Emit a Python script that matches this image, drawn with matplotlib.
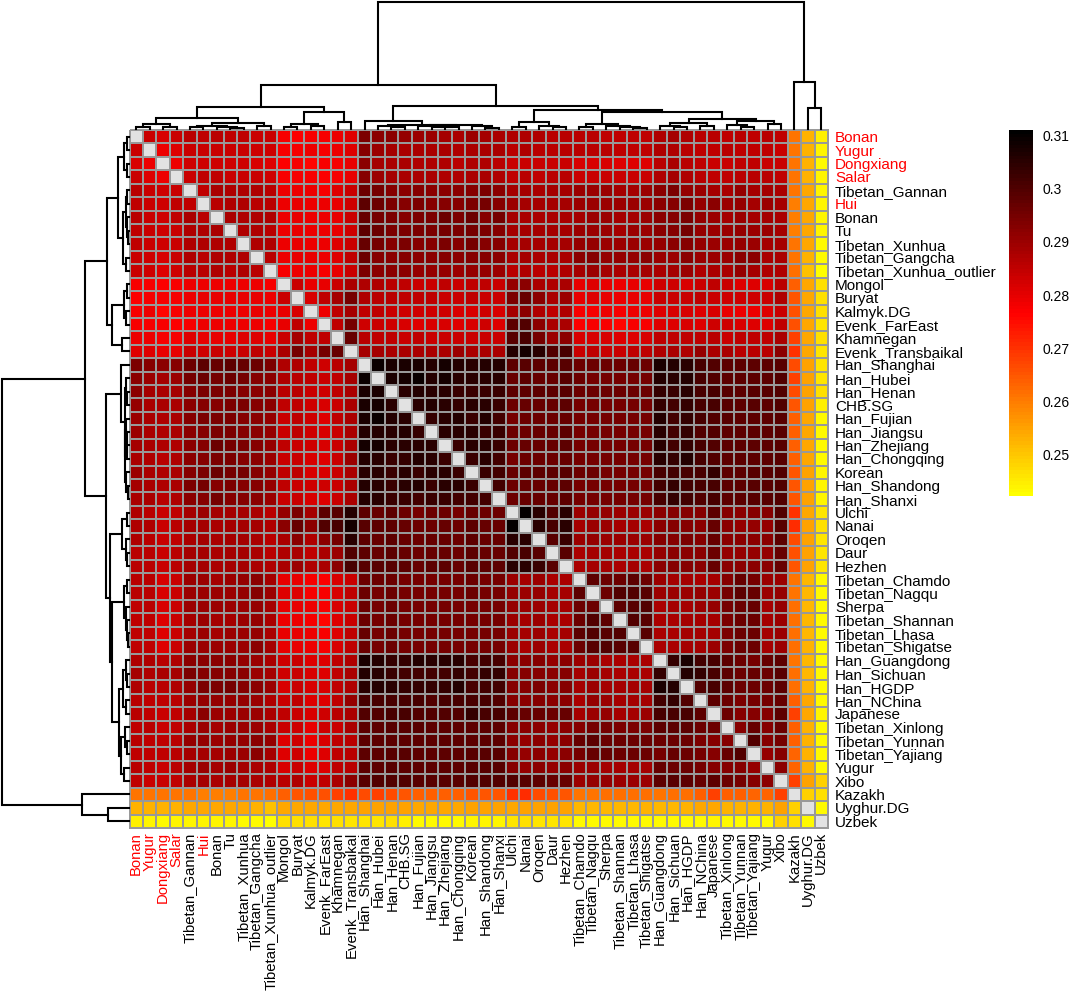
import matplotlib
matplotlib.use('Agg')
from matplotlib import pyplot as plt
from matplotlib.colors import LinearSegmentedColormap
import numpy as np

plt.rcParams['font.family'] = ['Liberation Sans', 'DejaVu Sans']

labels = ['Bonan', 'Yugur', 'Dongxiang', 'Salar', 'Tibetan_Gannan', 'Hui', 'Bonan', 'Tu',
          'Tibetan_Xunhua', 'Tibetan_Gangcha', 'Tibetan_Xunhua_outlier', 'Mongol', 'Buryat',
          'Kalmyk.DG', 'Evenk_FarEast', 'Khamnegan', 'Evenk_Transbaikal', 'Han_Shanghai',
          'Han_Hubei', 'Han_Henan', 'CHB.SG', 'Han_Fujian', 'Han_Jiangsu', 'Han_Zhejiang',
          'Han_Chongqing', 'Korean', 'Han_Shandong', 'Han_Shanxi', 'Ulchi', 'Nanai', 'Oroqen',
          'Daur', 'Hezhen', 'Tibetan_Chamdo', 'Tibetan_Nagqu', 'Sherpa', 'Tibetan_Shannan',
          'Tibetan_Lhasa', 'Tibetan_Shigatse', 'Han_Guangdong', 'Han_Sichuan', 'Han_HGDP',
          'Han_NChina', 'Japanese', 'Tibetan_Xinlong', 'Tibetan_Yunnan', 'Tibetan_Yajiang',
          'Yugur', 'Xibo', 'Kazakh', 'Uyghur.DG', 'Uzbek']
red_labels = [0, 1, 2, 3, 5]

# upper triangle of the matrix, value * 1000, row by row without the diagonal
upper = [
    [284,282,284,286,285,286,285,285,284,284,278,277,278,278,279,281, 294,292,292,291,290,290,289,288,290,289,288, 287,287,287,286,286, 286,286,285,285,285,285, 287,289,287,286, 286,285,286,285,286,285, 261,253,245],
    [279,281,284,284,284,284,284,283,283,278,278,279,278,279,281, 293,290,289,288,288,288,288,287,288,288,288, 286,287,286,286,286, 286,286,286,285,285,285, 287,287,286,285, 285,286,285,285,285,284, 261,253,244],
    [279,283,283,283,283,283,282,281,277,278,276,278,278,280, 292,289,288,288,287,287,287,286,287,287,286, 284,284,284,284,284, 282,282,282,281,281,281, 286,288,286,285, 284,284,285,285,284,284, 261,253,243],
    [284,285,285,284,284,284,283,278,278,278,277,278,280, 293,290,289,288,288,288,287,287,288,288,287, 285,286,285,286,286, 284,284,284,284,284,284, 287,289,287,286, 285,285,286,286,286,285, 261,253,244],
    [285,288,287,287,287,286,279,279,279,278,281,284, 296,295,293,292,293,292,292,292,293,294,292, 289,289,288,289,289, 290,290,290,289,289,290, 292,294,291,290, 289,288,291,289,289,288, 261,254,244],
    [286,287,287,286,286,279,280,279,279,280,283, 298,296,294,293,294,293,293,293,294,295,293, 290,289,289,289,289, 290,290,290,290,290,290, 292,293,294,291, 292,290,291,289,290,289, 260,254,244],
    [288,287,287,287,279,280,279,279,280,284, 297,295,294,293,294,294,296,294,296,293,295, 289,288,288,288,288, 289,290,290,289,289,290, 292,293,294,291, 290,289,290,289,289,288, 260,254,244],
    [287,287,286,279,280,279,279,280,283, 298,296,294,294,294,294,295,294,295,294,293, 289,289,289,289,289, 290,290,290,289,290,290, 292,293,295,291, 290,290,291,290,290,289, 260,254,244],
    [287,287,279,280,279,279,281,284, 297,295,293,294,293,293,294,293,295,293,293, 289,289,289,289,289, 291,291,290,290,290,290, 291,292,293,291, 290,290,291,290,289,289, 261,254,243],
    [286,279,280,280,279,281,285, 296,293,292,293,292,292,293,292,293,293,292, 288,289,288,288,288, 292,293,291,291,291,292, 290,290,292,290, 290,290,292,292,288,288, 261,253,243],
    [278,279,279,278,280,284, 294,292,292,292,291,291,291,290,291,291,290, 286,287,286,286,287, 289,290,289,288,288,289, 288,289,290,287, 288,288,291,289,287,287, 262,251,242],
    [284,280,280,284,288, 287,287,286,285,284,284,285,284,285,285,284, 291,292,288,287,288, 280,281,280,279,280,280, 283,283,282,284, 285,284,281,281,282,286, 264,254,247],
    [282,285,289,295, 287,286,286,285,285,285,284,284,285,284,284, 294,297,292,288,290, 280,281,280,279,280,280, 284,284,284,285, 284,283,283,283,284,287, 265,254,247],
    [279,285,289, 285,285,284,283,283,283,283,282,282,283,282, 289,292,287,285,287, 278,278,279,278,279,279, 281,282,282,281, 282,280,279,279,281,284, 266,254,247],
    [285,295, 283,284,283,282,281,282,282,281,282,283,281, 298,300,292,288,288, 277,278,278,276,278,278, 281,281,282,281, 283,283,282,281,281,285, 266,254,246],
    [297, 286,285,285,284,285,284,284,284,284,284,284, 299,301,295,290,292, 282,282,282,281,281,282, 285,285,285,285, 286,284,285,285,285,288, 268,254,247],
    [289,289,288,288,288,288,288,290,288,288,288, 306,308,305,300,301, 284,285,284,284,285,285, 287,288,287,291, 288,288,286,286,286,292, 270,254,246],
    [309,307,307,307,306,308,306,305,306,306, 298,299,298,298,299, 296,296,296,296,297,296, 307,306,305,301, 300,298,298,298,298,299, 267,255,246],
    [307,308,309,306,308,305,305,305,305, 297,298,297,297,299, 296,295,295,295,295,295, 306,305,306,301, 300,298,298,298,298,300, 268,255,246],
    [305,306,305,305,303,303,303,303, 298,298,298,298,299, 296,296,296,296,296,296, 304,303,305,301, 301,299,298,299,299,300, 267,255,247],
    [305,306,305,304,305,305,303, 296,297,297,297,298, 295,295,295,295,295,295, 304,302,304,301, 301,299,298,299,298,300, 265,255,245],
    [304,305,306,303,306,302, 295,296,296,296,297, 295,295,295,295,295,295, 306,302,304,301, 300,299,298,298,298,299, 264,254,243],
    [305,305,305,303,303, 296,296,297,297,298, 295,295,295,295,295,295, 305,302,304,300, 300,298,298,298,298,299, 264,254,243],
    [303,305,305,303, 296,297,297,297,298, 295,295,295,295,295,295, 305,302,304,301, 300,298,298,298,298,299, 264,254,243],
    [303,305,302, 295,296,296,296,297, 295,295,295,295,295,295, 305,304,306,301, 300,298,298,298,298,299, 264,254,243],
    [303,302, 297,298,298,298,299, 296,296,295,295,295,295, 301,302,301,301, 304,298,298,299,299,300, 265,255,244],
    [302, 296,297,297,297,298, 295,295,295,295,295,295, 302,304,302,301, 301,298,298,299,299,300, 265,255,244],
    [296,297,297,297,298, 295,295,295,295,295,295, 301,304,302,300, 301,298,298,299,299,300, 265,255,244],
    [310,305,300,305, 290,291,291,290,290,290, 292,293,293,293, 298,293,292,293,293,300, 270,254,246],
    [305,301,305, 289,290,290,289,289,288, 292,293,293,292, 297,292,291,291,291,299, 271,255,247],
    [299,303, 290,291,290,290,290,290, 293,293,294,293, 297,292,292,292,292,298, 267,255,246],
    [299, 288,289,289,288,288,288, 291,292,292,292, 296,291,291,291,291,297, 266,255,246],
    [288,289,289,288,289,288, 292,293,293,292, 297,292,292,292,292,297, 265,255,246],
    [298,296,296,298,296, 290,289,289,288, 289,293,297,295,290,290, 261,252,243],
    [296,300,300,299, 290,290,290,291, 290,295,298,297,290,291, 261,252,243],
    [298,299,300, 288,289,289,290, 291,295,296,297,289,291, 262,252,243],
    [300,299, 288,288,289,289, 289,294,296,296,289,290, 262,252,243],
    [299, 288,288,289,289, 289,294,296,296,289,290, 262,252,243],
    [288,288,289,289, 290,294,296,296,289,290, 262,253,243],
    [304,307,302, 301,298,296,295,297,298, 261,252,243],
    [306,304, 301,298,296,297,296,299, 262,252,243],
    [300, 301,298,296,296,296,298, 262,253,243],
    [298,296,294,295,295,297, 264,254,243],
    [296,293,293,293,298, 268,254,244],
    [293,297,293,296, 264,253,243],
    [300,293,295, 264,253,243],
    [291,293, 263,253,243],
    [292, 263,253,243],
    [268,255,249],
    [249,247],
    [243],
]

# dendrogram as (height, left, right), leaves are positions along the axis
tree_a1 = (11.5,
           (5, (2.5, 0, 1), (2.5, 2, 3)),
           (6.5, (3.5, (2, 4, 5), (2.5, 6, (1.5, 7, 8))), (3.5, 9, 10)))
tree_a2 = (17, (5.5, (2, 11, 12), (3.5, 13, 14)), (7.5, 15, 16))
tree_han = (8.5, 17,
            (4.5,
             (3.5, 18, (2, 19, 20)),
             (3.7, (3, 21, (2.5, 22, (1.8, 23, 24))), (2.8, 25, (1.5, 26, 27)))))
tree_north = (7, (1.8, 28, 29), (3.3, 30, (2, 31, 32)))
tree_tib = (5, (2.3, 33, 34), (3.2, 35, (2.5, 36, (1.5, 37, 38))))
tree_rest = (10.5,
             (6, (2.8, 39, (1.6, 40, 41)), (2.8, 42, 43)),
             (8, (3.8, 44, (2, 45, 46)), (5, 47, 48)))
tree = (127,
        (44,
         (22, tree_a1, tree_a2),
         (23.5, tree_han, (19.5, tree_north, (17, tree_tib, tree_rest)))),
        (47.5, 49, (21.5, 50, 51)))

n = len(labels)
mat = np.full((n, n), np.nan)
for i, row in enumerate(upper):
    if len(row) != n - i - 1:
        raise ValueError('row %d has %d values' % (i, len(row)))
    for k, v in enumerate(row):
        mat[i, i + k + 1] = v / 1000.0
        mat[i + k + 1, i] = v / 1000.0

vmin, vmax = 0.2423, 0.311
cmap = LinearSegmentedColormap.from_list('ybk', ['#ffff00', '#ff0000', '#000000'], N=100)
cmap.set_bad('#e2e2e2')

W, H = 1072.0, 993.0
fig = plt.figure(figsize=(W / 100, H / 100), dpi=100)


def px_axes(x0, y0, x1, y1):
    return fig.add_axes([x0 / W, 1 - y1 / H, (x1 - x0) / W, (y1 - y0) / H])


# heatmap
hx0, hy0, hx1, hy1 = 129.5, 130.0, 828.0, 828.0
ax = px_axes(hx0, hy0, hx1, hy1)
mesh = ax.pcolormesh(np.arange(n + 1), np.arange(n + 1), np.ma.masked_invalid(mat), cmap=cmap,
                     vmin=vmin, vmax=vmax, edgecolors='#999999', linewidth=1.1, clip_on=False)
ax.set_xlim(0, n)
ax.set_ylim(n, 0)
ax.set_xticks(np.arange(n) + 0.5)
ax.set_yticks(np.arange(n) + 0.5)
ax.set_xticklabels(labels, rotation=90, fontsize=10.7)
ax.set_yticklabels(labels, fontsize=11)
ax.yaxis.tick_right()
ax.tick_params(length=0)
ax.tick_params(axis='x', pad=3)
ax.tick_params(axis='y', pad=5)
for s in ax.spines.values():
    s.set_visible(False)
for idx in red_labels:
    ax.get_xticklabels()[idx].set_color('#ff0000')
    ax.get_yticklabels()[idx].set_color('#ff0000')


def draw_tree(node, axis, flip):
    # returns centre position and height of a node
    if not isinstance(node, tuple):
        return node + 0.5, 0
    h, left, right = node
    p1, h1 = draw_tree(left, axis, flip)
    p2, h2 = draw_tree(right, axis, flip)
    xs = [p1, p1, p2, p2]
    ys = [h1, h, h, h2]
    if flip:
        axis.plot(ys, xs, color='black', lw=1.5, solid_joinstyle='miter', clip_on=False)
    else:
        axis.plot(xs, ys, color='black', lw=1.5, solid_joinstyle='miter', clip_on=False)
    return (p1 + p2) / 2.0, h


# top tree
ax_top = px_axes(hx0, 0, hx1, 129)
draw_tree(tree, ax_top, False)
ax_top.set_xlim(0, n)
ax_top.set_ylim(0, 129)
ax_top.axis('off')

# left tree
ax_left = px_axes(0, hy0, 129, hy1)
draw_tree(tree, ax_left, True)
ax_left.set_ylim(n, 0)
ax_left.set_xlim(129, 0)
ax_left.axis('off')

# colour bar
ax_bar = px_axes(1009, 130, 1033, 496)
levels = np.linspace(vmax, vmin, 100)[:, None]
ax_bar.imshow(levels, cmap=cmap, vmin=vmin, vmax=vmax, aspect='auto',
              extent=[0, 1, vmin, vmax], interpolation='nearest')
ax_bar.set_xticks([])
ax_bar.yaxis.tick_right()
ax_bar.set_yticks([0.25, 0.26, 0.27, 0.28, 0.29, 0.30, 0.31])
ax_bar.set_yticklabels(['0.25', '0.26', '0.27', '0.28', '0.29', '0.3', '0.31'], fontsize=10)
ax_bar.tick_params(length=0, pad=6.5)
for s in ax_bar.spines.values():
    s.set_visible(False)

plt.savefig('out.png', dpi=100)
